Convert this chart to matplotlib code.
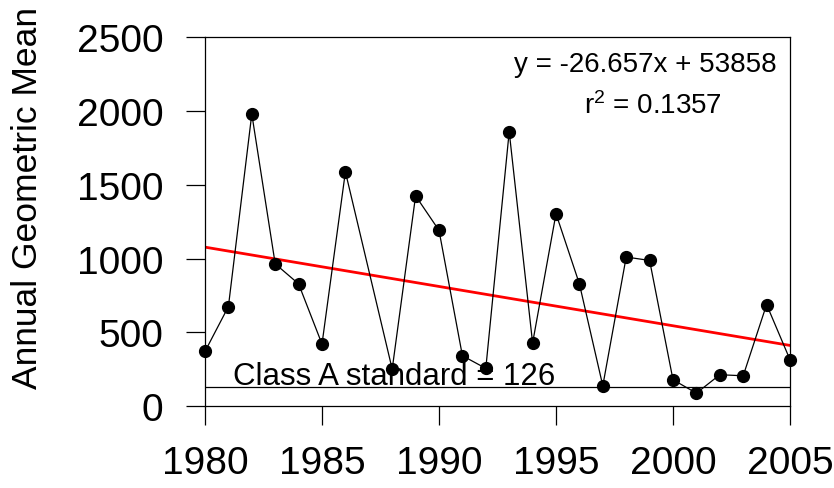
import numpy as np
import matplotlib
matplotlib.use("Agg")
import matplotlib.pyplot as plt

plt.rcParams['font.family'] = ['Liberation Sans', 'DejaVu Sans']
plt.rcParams['mathtext.default'] = 'regular'

# annual geometric mean (1987 has no value)
years = [1980, 1981, 1982, 1983, 1984, 1985, 1986, 1988, 1989, 1990, 1991, 1992,
         1993, 1994, 1995, 1996, 1997, 1998, 1999, 2000, 2001, 2002, 2003, 2004, 2005]
values = [370, 674, 1980, 964, 828, 420, 1588, 250, 1425, 1191, 341, 255,
          1860, 427, 1304, 828, 137, 1010, 987, 178, 87, 212, 205, 688, 314]

slope = -26.657
intercept = 53858
r2 = 0.1357
standard = 126

xticks = [1980, 1985, 1990, 1995, 2000, 2005]
yticks = [0, 500, 1000, 1500, 2000, 2500]

fig = plt.figure(figsize=(8.34, 4.89), dpi=100)
ax = fig.add_axes([205/834, 1-407/489, 585/834, (407-38.3)/489])

ax.plot(years, values, '-', color='black', lw=0.9, marker='o', ms=8.5,
        markerfacecolor='black', markeredgecolor='black', clip_on=False, zorder=3)

fit_x = np.array([1980, 2005])
ax.plot(fit_x, slope*fit_x + intercept, color='red', lw=2, zorder=2)

ax.plot([1980, 2005], [standard, standard], color='black', lw=0.9, zorder=1)
ax.text(1981.2, 149, 'Class A standard = %d' % standard, fontsize=22.5, va='baseline', ha='left')

ax.text(0.752, 0.928, 'y = %.3fx + %d' % (slope, intercept), transform=ax.transAxes,
        fontsize=20, ha='center', va='center')
ax.text(0.765, 0.815, 'r$^{2}$ = %.4f' % r2, transform=ax.transAxes,
        fontsize=20, ha='center', va='center')

ax.set_xlim(1980, 2005)
ax.set_ylim(0, 2500)
ax.set_xticks(xticks)
ax.set_yticks(yticks)
ax.tick_params(direction='out', length=14, width=0.9, labelsize=28)
ax.tick_params(axis='x', pad=14)
ax.tick_params(axis='y', pad=16)
for s in ax.spines.values():
    s.set_linewidth(0.9)
ax.set_ylabel('Annual Geometric Mean', fontsize=25.5)
ax.yaxis.set_label_coords(-0.275, 0.567)

plt.savefig('out.png', dpi=100)
